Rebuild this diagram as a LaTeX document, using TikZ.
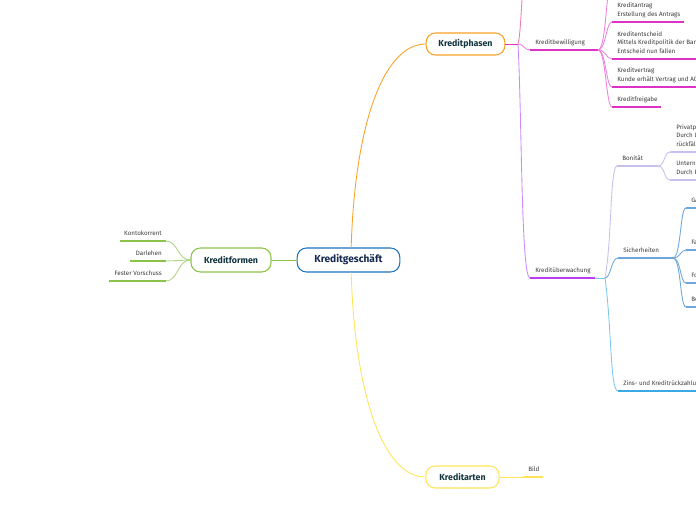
\documentclass[tikz,border=0pt]{standalone}
\usepackage{fontspec}
\setmainfont{Fira Sans}
\definecolor{mapblue}{RGB}{30,115,195}
\definecolor{mapgreen}{RGB}{140,195,75}
\definecolor{maporange}{RGB}{250,160,40}
\definecolor{mapyellow}{RGB}{255,228,90}
\definecolor{maprose}{RGB}{240,125,175}
\definecolor{mappink}{RGB}{236,130,222}
\definecolor{mapmagenta}{RGB}{222,50,196}
\definecolor{maplilac}{RGB}{205,140,245}
\definecolor{mappurple}{RGB}{190,60,240}
\definecolor{mapmauve}{RGB}{200,192,238}
\definecolor{mapsteel}{RGB}{110,165,218}
\definecolor{mapsky}{RGB}{125,200,240}
\definecolor{mapazure}{RGB}{60,168,230}
\definecolor{topictext}{RGB}{18,52,62}
\definecolor{roottext}{RGB}{20,40,80}
\definecolor{leafgray}{RGB}{60,60,60}
\begin{document}
\begin{tikzpicture}[x=0.75pt,y=-0.75pt,
  topic/.style={draw,fill=white,rounded corners=7pt,line width=0.8pt,inner sep=0pt,minimum height=16.5pt,text=topictext,font=\fontsize{6.6}{8}\selectfont\bfseries},
  leaf/.style={anchor=south west,inner sep=0pt,align=left,text depth=0pt,text=leafgray,font=\fontsize{4.7}{6.4}\selectfont},
  leafr/.style={leaf,anchor=south east,align=right},
  link/.style={line width=0.65pt},
  uline/.style={line width=1.2pt}]
\useasboundingbox (0,0) rectangle (696,520);
\clip (0,0) rectangle (696,520);

\coordinate (kontoL) at (120,241); \coordinate (kontoR) at (166,241);
\coordinate (darlL) at (130,261); \coordinate (darlR) at (166,261);
\coordinate (festL) at (109,281); \coordinate (festR) at (166,281);
\coordinate (kpb) at (518,44); \coordinate (kpup) at (530,-60);
\coordinate (bewL) at (530,50); \coordinate (bewR) at (598,50); \coordinate (bewup) at (612,-30);
\coordinate (antrL) at (612,22); \coordinate (antrR) at (684,22);
\coordinate (entsL) at (612,59); \coordinate (entsR) at (700,59);
\coordinate (vertL) at (612,87); \coordinate (vertR) at (700,87);
\coordinate (freiL) at (612,107); \coordinate (freiR) at (661,107);
\coordinate (uebL) at (530,278); \coordinate (uebR) at (595,278); \coordinate (uebb) at (605,278);
\coordinate (bonL) at (617,166); \coordinate (bonR) at (658,166);
\coordinate (privL) at (670,152); \coordinate (privR) at (700,152);
\coordinate (untL) at (670,180); \coordinate (untR) at (700,180);
\coordinate (sichL) at (618,258); \coordinate (sichR) at (673,258);
\coordinate (gaL) at (686,208); \coordinate (gaR) at (700,208);
\coordinate (faL) at (686,250); \coordinate (faR) at (700,250);
\coordinate (foL) at (686,283); \coordinate (foR) at (700,283);
\coordinate (beL) at (686,307); \coordinate (beR) at (700,307);
\coordinate (zinsL) at (618,391); \coordinate (zinsR) at (700,391);
\coordinate (bildL) at (523,477); \coordinate (bildR) at (543,477);

\node[topic,draw=mapblue,text=roottext,minimum width=77pt,minimum height=18pt,font=\fontsize{7.6}{9}\selectfont\bfseries] (kg) at (348.5,260) {Kreditgeschäft};
\node[topic,draw=mapgreen,minimum width=60pt,minimum height=18pt] (kf) at (231,260) {Kreditformen};
\node[topic,draw=maporange,minimum width=59pt] (kp) at (465.5,44) {Kreditphasen};
\node[topic,draw=mapyellow,minimum width=55pt] (ka) at (462.5,477) {Kreditarten};

\draw[link,mapgreen] (kg.west) -- (kf.east);
\draw[link,maporange] ([xshift=2pt]kg.north) .. controls (355,120) and (385,44) .. (kp.west);
\draw[link,mapyellow] ([xshift=2pt]kg.south) .. controls (355,400) and (385,477) .. (ka.west);

\draw[link,mapgreen!70] (kf.west) .. controls +(-13,0) and +(12,0) .. (kontoR);
\draw[link,mapgreen!70] (kf.west) .. controls +(-13,0) and +(12,0) .. (darlR);
\draw[link,mapgreen!70] (kf.west) .. controls +(-13,0) and +(12,0) .. (festR);
\draw[uline,mapgreen] (kontoL) -- (kontoR); \node[leafr] (konto) at (162,235.5) {Kontokorrent};
\draw[uline,mapgreen] (darlL) -- (darlR); \node[leafr] (darl) at (162,255.5) {Darlehen};
\draw[uline,mapgreen] (festL) -- (festR); \node[leafr] (fest) at (162,275.5) {Fester Vorschuss};

\draw[link,mapmagenta] (kp.east) -- (kpb);
\draw[link,maprose] (kpb) .. controls (522,30) and (521,-30) .. (kpup);
\draw[link,mappink] (kpb) .. controls +(6,0) and +(-6,0) .. (bewL);
\draw[link,maplilac] (kpb) .. controls (522,120) and (521,278) .. (uebL);

\draw[uline,mapmagenta] (bewL) -- (bewR); \node[leaf] (bew) at (535,44.5) {Kreditbewilligung};
\draw[link,mappink] (bewR) .. controls (606,50) and (606,-10) .. (bewup);
\foreach \c in {antrL,entsL,vertL,freiL} \draw[link,mappink] (bewR) .. controls +(8,0) and +(-6,0) .. (\c);
\draw[uline,mapmagenta] (antrL) -- (antrR); \node[leaf] (antr) at (617,16.5) {Kreditantrag\\Erstellung des Antrags};
\draw[uline,mapmagenta] (entsL) -- (entsR); \node[leaf] (ents) at (617,53.5) {Kreditentscheid\\Mittels Kreditpolitik der Bank\\Entscheid nun fallen};
\draw[uline,mapmagenta] (vertL) -- (vertR); \node[leaf] (vert) at (617,81.5) {Kreditvertrag\\Kunde erhält Vertrag und AGB};
\draw[uline,mapmagenta] (freiL) -- (freiR); \node[leaf] (frei) at (617,101.5) {Kreditfreigabe};

\draw[uline,mappurple] (uebL) -- (uebR); \node[leaf] (ueb) at (535,272.5) {Kreditüberwachung};
\draw[link,mapsky] (uebR) -- (uebb);
\draw[link,mapmauve] (uebb) .. controls (612,240) and (610,166) .. (bonL);
\draw[link,mapsteel] (uebb) .. controls (611,278) and (611,258) .. (sichL);
\draw[link,mapsky] (uebb) .. controls (612,330) and (610,391) .. (zinsL);

\draw[uline,mapmauve] (bonL) -- (bonR); \node[leaf] (bon) at (622,160.5) {Bonität};
\foreach \c in {privL,untL} \draw[link,mapmauve] (bonR) .. controls +(7,0) and +(-6,0) .. (\c);
\draw[uline,mapmauve] (privL) -- (privR); \node[leaf] (priv) at (676,146.5) {Privatpersonen\\Durch Lohn\\rückfällig};
\draw[uline,mapmauve] (untL) -- (untR); \node[leaf] (unt) at (676,174.5) {Unternehmen\\Durch Bilanz};

\draw[uline,mapsteel] (sichL) -- (sichR); \node[leaf] (sich) at (623,252.5) {Sicherheiten};
\foreach \c in {gaL,faL,foL,beL} \draw[link,mapsteel] (sichR) .. controls +(8,0) and +(-6,0) .. (\c);
\draw[uline,mapsteel] (gaL) -- (gaR); \node[leaf] (ga) at (691,202.5) {Garantie};
\draw[uline,mapsteel] (faL) -- (faR); \node[leaf] (fa) at (691,244.5) {Faustpfand};
\draw[uline,mapsteel] (foL) -- (foR); \node[leaf] (fo) at (691,277.5) {Forderungsabtretung};
\draw[uline,mapsteel] (beL) -- (beR); \node[leaf] (be) at (691,301.5) {Belehnung};

\draw[uline,mapazure] (zinsL) -- (zinsR); \node[leaf] (zins) at (623,385.5) {Zins- und Kreditrückzahlung};

\draw[link,mapyellow] (ka.east) -- (bildL);
\draw[uline,mapyellow] (bildL) -- (bildR); \node[leaf] (bild) at (528,471.5) {Bild};
\end{tikzpicture}
\end{document}
